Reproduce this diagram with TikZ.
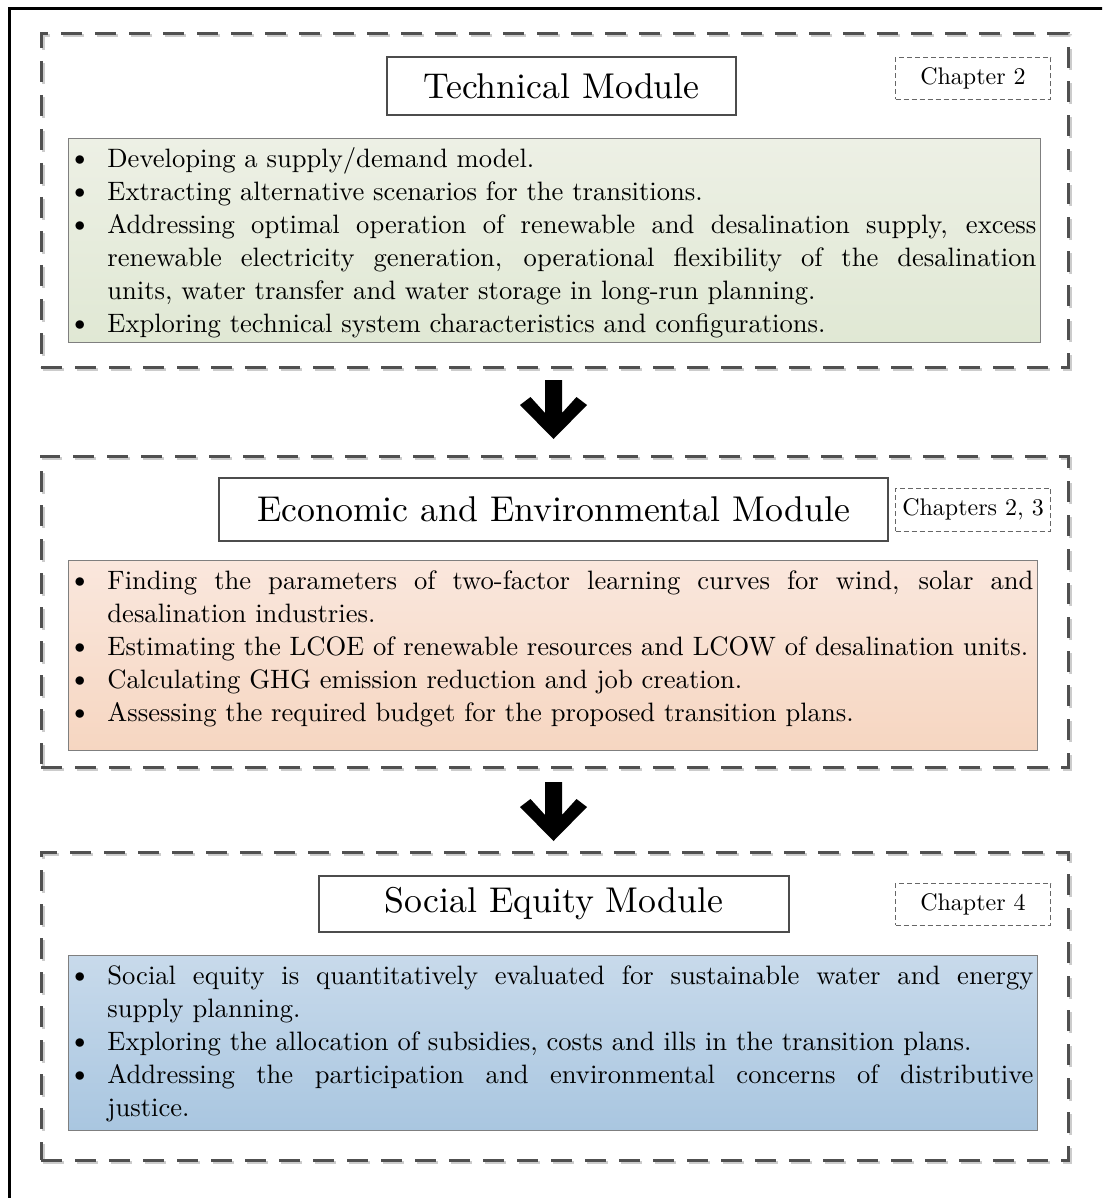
\documentclass[tikz,border=0pt]{standalone}
\usepackage{fontspec}
\setmainfont{lmroman10-regular.otf}
\usetikzlibrary{calc}
\definecolor{dashgray}{HTML}{505050}
\definecolor{shadowgray}{HTML}{CCCCCC}
\definecolor{boxborder}{HTML}{7F7F7F}
\definecolor{greentop}{RGB}{237,240,229}
\definecolor{greenbot}{RGB}{224,232,212}
\definecolor{orangetop}{RGB}{250,231,221}
\definecolor{orangebot}{RGB}{246,214,193}
\definecolor{bluetop}{RGB}{200,218,235}
\definecolor{bluebot}{RGB}{169,198,224}
\newcommand{\itm}[1]{\par\noindent\hangindent=16.5pt\hangafter=1\makebox[16.5pt][l]{\strut\raisebox{0.8pt}{\fontsize{10.5}{12}\selectfont$\bullet$}}#1}
\tikzset{
  modbox/.style={draw=dashgray, line width=1.5pt, dash pattern=on 10.5pt off 6.5pt, inner sep=0pt, outer sep=0pt, minimum width=513.5pt},
  titlebox/.style={draw=black!70, line width=0.6pt, fill=white, inner sep=0pt, font=\fontsize{17.9}{22}\selectfont},
  chapbox/.style={draw=black!60, line width=0.5pt, dash pattern=on 2.5pt off 1.5pt, fill=white, inner sep=0pt, minimum width=77.5pt, font=\fontsize{12}{14}\selectfont},
  contentbox/.style={draw=boxborder, line width=0.6pt, inner sep=0pt, anchor=north west},
  listtext/.style={inner sep=0pt, anchor=north west, align=justify,
     font=\fontsize{13.3}{16.5}\selectfont, execute at begin node={\hyphenpenalty=10000\exhyphenpenalty=10000}},
  bigarrow/.style={fill=black}
}
\begin{document}
\begin{tikzpicture}[x=0.5pt,y=-0.5pt]
\useasboundingbox (0,0) rectangle (1102,1198);
\clip (0,0) rectangle (1102,1198);
\fill[white] (0,0) rectangle (1102,1198);
% outer frame
\draw[line width=1.5pt] (9,1260) -- (9,9) -- (1160,9);

% Module box shadows
\node[modbox, draw=shadowgray, minimum height=166.5pt] (S1) at ([shift={(1pt,-1pt)}]554.5,200.5) {};
\node[modbox, draw=shadowgray, minimum height=155.5pt] (S2) at ([shift={(1pt,-1pt)}]554.5,611.5) {};
\node[modbox, draw=shadowgray, minimum height=154pt] (S3) at ([shift={(1pt,-1pt)}]554.5,1006) {};
% Module boxes
\node[modbox, minimum height=166.5pt] (M1) at (554.5,200.5) {};
\node[modbox, minimum height=155.5pt] (M2) at (554.5,611.5) {};
\node[modbox, minimum height=154pt] (M3) at (554.5,1006) {};

% Titles
\node[titlebox, minimum width=174.5pt, minimum height=29pt] (T1) at (561.5,86) {Technical Module};
\node[titlebox, minimum width=334.5pt, minimum height=31.5pt] (T2) at (553.5,509.5) {Economic and Environmental Module};
\node[titlebox, minimum width=235pt, minimum height=28pt] (T3) at (554,904) {Social Equity Module};

% Chapter labels
\node[chapbox, minimum height=21pt] (C1) at (973,78.5) {Chapter 2};
\node[chapbox, minimum height=21.5pt] (C2) at (973,509.5) {Chapters 2, 3};
\node[chapbox, minimum height=21pt] (C3) at (973,904) {Chapter 4};

% Content boxes
\node[contentbox, top color=greentop, bottom color=greenbot, minimum width=486pt, minimum height=102pt] (B1) at (68,138) {};
\node[contentbox, top color=orangetop, bottom color=orangebot, minimum width=484.5pt, minimum height=95pt] (B2) at (68,560) {};
\node[contentbox, top color=bluetop, bottom color=bluebot, minimum width=484.5pt, minimum height=87.5pt] (B3) at (68,955) {};

\node[listtext, text width=481pt] (L1) at (74,134) {%
\itm{Developing a supply/demand model.}
\itm{Extracting alternative scenarios for the transitions.}
\itm{Addressing optimal operation of renewable and desalination supply, excess\linebreak renewable electricity generation, operational flexibility of the desalination\linebreak units, water transfer and water storage in long-run planning.}
\itm{Exploring technical system characteristics and configurations.}\par};

\node[listtext, text width=479.5pt] (L2) at (74,556) {%
\itm{Finding the parameters of two-factor learning curves for wind, solar and\linebreak desalination industries.}
\itm{Estimating the LCOE of renewable resources and LCOW of desalination units.}
\itm{Calculating GHG emission reduction and job creation.}
\itm{Assessing the required budget for the proposed transition plans.}\par};

\node[listtext, text width=479.5pt] (L3) at (74,951) {%
\itm{Social equity is quantitatively evaluated for sustainable water and energy\linebreak supply planning.}
\itm{Exploring the allocation of subsidies, costs and ills in the transition plans.}
\itm{Addressing the participation and environmental concerns of distributive\linebreak justice.}\par};

% Arrows
\coordinate (A1) at ($(M1.south)+(-1,13)$);
\coordinate (A2) at ($(M2.south)+(-1,15)$);
\foreach \a in {A1,A2}{
  \fill[bigarrow, shift={(\a)}] (-8.5,0) -- (8.5,0) -- (8.5,33) -- (23,17) -- (33.5,25) -- (0,59) -- (-33.5,25) -- (-23,17) -- (-8.5,33) -- cycle;
}
\end{tikzpicture}
\end{document}
